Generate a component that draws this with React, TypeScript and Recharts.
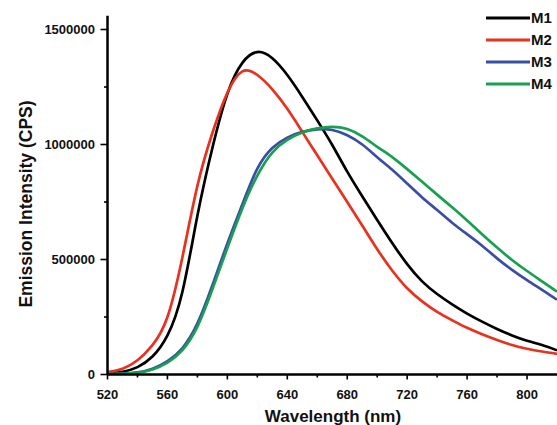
import React from "react";
import { LineChart, Line, XAxis, YAxis } from "recharts";

// emission spectra, sampled every 10 nm
const wavelengths = [
  520, 530, 540, 550, 560, 570, 580, 590, 600, 610, 620, 630, 640, 650, 660, 670,
  680, 690, 700, 710, 720, 730, 740, 750, 760, 770, 780, 790, 800, 810, 820,
];
const m1 = [
  5000, 12000, 32000, 78000, 170000, 360000, 690000, 985000, 1220000, 1355000, 1402000,
  1375000, 1302000, 1207000, 1105000, 998000, 882000, 775000, 672000, 572000, 480000,
  405000, 350000, 305000, 265000, 230000, 198000, 170000, 147000, 128000, 105000,
];
const m2 = [
  10000, 25000, 62000, 128000, 250000, 510000, 820000, 1050000, 1225000, 1318000, 1302000,
  1240000, 1155000, 1055000, 953000, 851000, 750000, 648000, 545000, 452000, 375000,
  318000, 272000, 236000, 203000, 175000, 150000, 128000, 112000, 100000, 90000,
];
const m3 = [
  2000, 4000, 9000, 25000, 58000, 115000, 222000, 388000, 570000, 740000, 895000,
  985000, 1030000, 1055000, 1066000, 1063000, 1040000, 1000000, 945000, 890000, 830000,
  770000, 715000, 660000, 610000, 560000, 505000, 455000, 410000, 368000, 325000,
];
const m4 = [
  2000, 3000, 7000, 22000, 52000, 106000, 208000, 370000, 550000, 722000, 865000,
  965000, 1020000, 1052000, 1070000, 1077000, 1067000, 1035000, 990000, 945000, 893000,
  838000, 782000, 727000, 670000, 610000, 552000, 498000, 450000, 405000, 360000,
];

const xTicks = [520, 540, 560, 580, 600, 620, 640, 660, 680, 700, 720, 740, 760, 780, 800];
const yTicks = [0, 250000, 500000, 750000, 1000000, 1250000, 1500000];

const series = [
  { key: "M1", color: "#000000" },
  { key: "M2", color: "#e8321e" },
  { key: "M3", color: "#3b4ea6" },
  { key: "M4", color: "#17a04f" },
];

const data = wavelengths.map((nm, i) => ({
  nm,
  M1: m1[i],
  M2: m2[i],
  M3: m3[i],
  M4: m4[i],
}));

const FONT = "'Liberation Sans', Arial, Helvetica, sans-serif";

const XTick = (props: any) => {
  const { x, y, payload } = props;
  const major = (payload.value - 520) % 40 === 0;
  return (
    <g>
      <line x1={x} x2={x} y1={y} y2={y + (major ? 5 : 3)} stroke="#000" strokeWidth={1.6} />
      {major && (
        <text x={x} y={y + 24} textAnchor="middle" fontSize={13} fontWeight="bold" fontFamily={FONT} fill="#111">
          {payload.value}
        </text>
      )}
    </g>
  );
};

const YTick = (props: any) => {
  const { x, y, payload } = props;
  const major = payload.value % 500000 === 0;
  return (
    <g>
      <line x1={x - (major ? 7 : 3.5)} x2={x} y1={y} y2={y} stroke="#000" strokeWidth={1.6} />
      {major && (
        <text x={x - 12.5} y={y + 4.6} textAnchor="end" fontSize={13} fontWeight="bold" fontFamily={FONT} fill="#111">
          {payload.value}
        </text>
      )}
    </g>
  );
};

export default function App() {
  return (
    <div style={{ position: "absolute", left: 0, top: 0, width: 557, height: 425, background: "#fff", overflow: "hidden" }}>
      <LineChart
        width={557}
        height={425}
        data={data}
        margin={{ top: 15.7, right: 0, bottom: 0, left: 0 }}
        style={{ fontFamily: FONT }}
      >
        <XAxis
          dataKey="nm"
          type="number"
          domain={[520, 820]}
          ticks={xTicks}
          interval={0}
          height={50.5}
          tickSize={0}
          tickMargin={0}
          tickLine={false}
          tick={<XTick />}
          axisLine={{ stroke: "#000", strokeWidth: 2.5 }}
          allowDataOverflow
          label={() => (
            <text x={333} y={421.5} textAnchor="middle" fontSize={17} fontWeight="bold" fontFamily={FONT} fill="#111">
              Wavelength (nm)
            </text>
          )}
        />
        <YAxis
          type="number"
          domain={[0, 1560000]}
          ticks={yTicks}
          interval={0}
          width={107.5}
          tickSize={0}
          tickMargin={0}
          tickLine={false}
          tick={<YTick />}
          axisLine={{ stroke: "#000", strokeWidth: 2.5 }}
          allowDataOverflow
          label={() => (
            <text
              x={31.5}
              y={204}
              transform="rotate(-90 31.5 204)"
              textAnchor="middle"
              fontSize={17.5}
              fontWeight="bold"
              fontFamily={FONT}
              fill="#111"
            >
              Emission Intensity (CPS)
            </text>
          )}
        />
        {series.map((s) => (
          <Line
            key={s.key}
            dataKey={s.key}
            name={s.key}
            type="natural"
            stroke={s.color}
            strokeWidth={2.7}
            dot={false}
            activeDot={false}
            isAnimationActive={false}
          />
        ))}
      </LineChart>
      <div style={{ position: "absolute", left: 486, top: 7, width: 71, fontFamily: FONT }}>
        {series.map((s) => (
          <div key={s.key} style={{ display: "flex", alignItems: "center", height: 21.9 }}>
            <svg width={44} height={6} style={{ display: "block" }}>
              <line x1={0} x2={44} y1={3} y2={3} stroke={s.color} strokeWidth={3} />
            </svg>
            <span style={{ fontSize: 15, fontWeight: "bold", color: "#111", marginLeft: 1, lineHeight: "15px" }}>
              {s.key}
            </span>
          </div>
        ))}
      </div>
    </div>
  );
}
